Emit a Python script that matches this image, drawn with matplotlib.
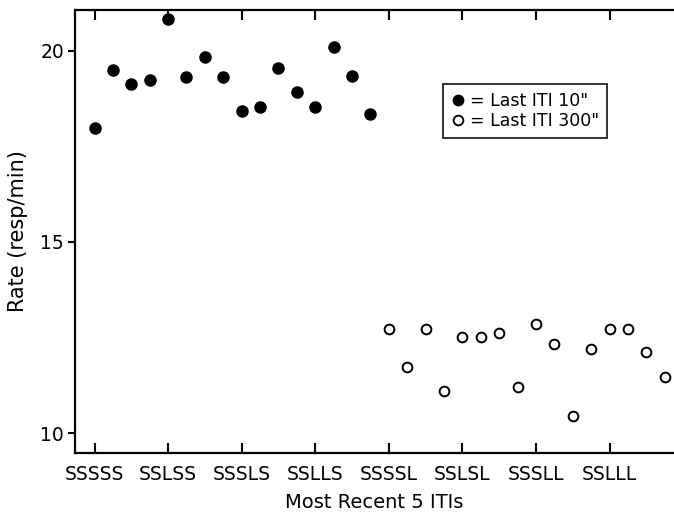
import matplotlib
matplotlib.use("Agg")
import matplotlib.pyplot as plt
from matplotlib.lines import Line2D

plt.rcParams['font.family'] = ['DejaVu Sans']

tick_labels = ["SSSSS", "SSLSS", "SSSLS", "SSLLS", "SSSSL", "SSLSL", "SSSLL", "SSLLL"]
last10 = [17.97, 19.48, 19.13, 19.22, 20.83, 19.32, 19.83, 19.32,
          18.43, 18.52, 19.55, 18.91, 18.52, 20.09, 19.34, 18.35]
last300 = [12.71, 11.72, 12.73, 11.10, 12.50, 12.51, 12.62, 11.21,
           12.85, 12.34, 10.44, 12.21, 12.72, 12.72, 12.12, 11.47]

x10 = list(range(len(last10)))
x300 = [len(last10) + i for i in range(len(last300))]
tick_pos = list(range(0, len(last10) + len(last300), 4))

fig = plt.figure(figsize=(6.74, 5.19), dpi=100)
ax = fig.add_axes([0.1113, 0.1272, 0.8887, 0.8535])

ax.plot(x10, last10, 'o', color='black', markersize=8, linestyle='none')
ax.plot(x300, last300, 'o', markerfacecolor='white', markeredgecolor='black',
        markersize=7, markeredgewidth=1.4, linestyle='none')

ax.set_xlim(-1.06, 31.5)
ax.set_ylim(9.48, 21.06)
ax.set_yticks([10, 15, 20])
ax.set_yticklabels(["10", "15", "20"], fontsize=13.5)
ax.set_xticks(tick_pos)
ax.set_xticklabels(tick_labels, fontsize=13.5)
ax.tick_params(axis='x', direction='in', length=7, width=1.5, top=True, pad=9)
ax.tick_params(axis='y', direction='out', length=5, width=1.5, pad=3)

for s in ['left', 'bottom', 'top']:
    ax.spines[s].set_linewidth(1.6)
ax.spines['right'].set_visible(False)

ax.set_xlabel("Most Recent 5 ITIs", fontsize=14, labelpad=6)
ax.set_ylabel("Rate (resp/min)", fontsize=15, labelpad=9)

handles = [
    Line2D([], [], marker='o', color='black', linestyle='none', markersize=7.5),
    Line2D([], [], marker='o', markerfacecolor='white', markeredgecolor='black',
           linestyle='none', markersize=7, markeredgewidth=1.3),
]
leg = ax.legend(handles, ['= Last ITI 10"', '= Last ITI 300"'],
                loc='upper left', bbox_to_anchor=((443 - 75) / 599, (453 - 84) / 443),
                fontsize=12.5, frameon=True, fancybox=False, handlelength=0.8,
                handletextpad=0.3, borderpad=0.45, labelspacing=0.15,
                borderaxespad=0.0)
leg.get_frame().set_edgecolor('black')
leg.get_frame().set_linewidth(1.4)

fig.savefig("out.png", dpi=100)
